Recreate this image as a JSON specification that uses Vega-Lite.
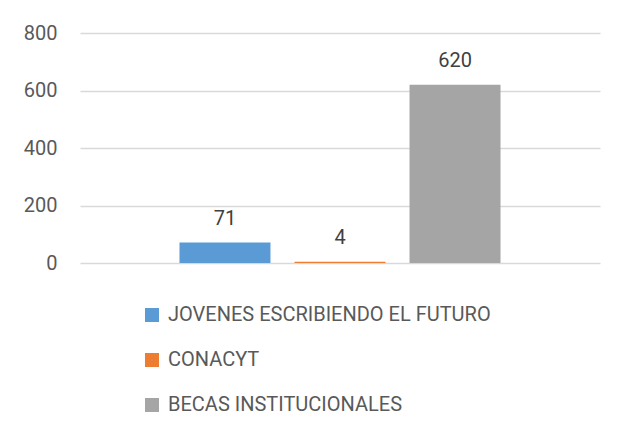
{
  "$schema": "https://vega.github.io/schema/vega-lite/v6.json",
  "width": 520,
  "height": 230,
  "autosize": "none",
  "padding": {"left": 80, "top": 33, "right": 21, "bottom": 175},
  "background": "white",
  "config": {
    "view": {"stroke": null},
    "font": "Roboto"
  },
  "data": {
    "values": [
      {"serie": "JOVENES ESCRIBIENDO EL FUTURO", "valor": 71},
      {"serie": "CONACYT", "valor": 4},
      {"serie": "BECAS INSTITUCIONALES", "valor": 620}
    ]
  },
  "encoding": {
    "x": {
      "field": "serie",
      "type": "nominal",
      "sort": null,
      "scale": {"paddingInner": 0.209, "paddingOuter": 0.865},
      "axis": null
    },
    "y": {
      "field": "valor",
      "type": "quantitative",
      "scale": {"domain": [0, 800], "nice": false},
      "axis": {
        "values": [0, 200, 400, 600, 800],
        "domain": false,
        "ticks": false,
        "labelPadding": 23,
        "labelFontSize": 20,
        "labelColor": "#595959",
        "labelFont": "Roboto",
        "gridColor": "#D9D9D9",
        "gridWidth": 1.3,
        "title": null
      }
    }
  },
  "layer": [
    {
      "mark": {"type": "bar"},
      "encoding": {
        "color": {
          "field": "serie",
          "type": "nominal",
          "sort": null,
          "scale": {
            "domain": ["JOVENES ESCRIBIENDO EL FUTURO", "CONACYT", "BECAS INSTITUCIONALES"],
            "range": ["#5B9BD5", "#ED7D31", "#A5A5A5"]
          },
          "legend": {
            "title": null,
            "orient": "none",
            "legendX": 62,
            "legendY": 272,
            "direction": "vertical",
            "symbolType": "square",
            "symbolSize": 196,
            "symbolStrokeWidth": 0,
            "labelFontSize": 20,
            "labelFont": "Roboto",
            "labelColor": "#595959",
            "labelOffset": 6,
            "rowPadding": 25,
            "labelLimit": 600
          }
        }
      }
    },
    {
      "mark": {"type": "text", "baseline": "alphabetic", "dy": -18, "fontSize": 20, "color": "#404040", "font": "Roboto"},
      "encoding": {
        "text": {"field": "valor", "type": "quantitative"}
      }
    }
  ]
}
